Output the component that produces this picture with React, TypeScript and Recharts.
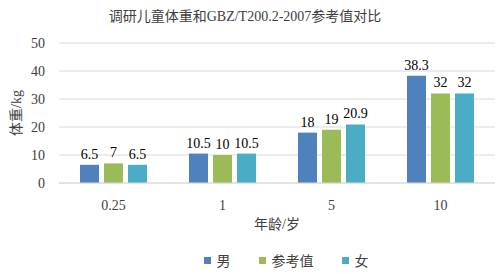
import React from "react";
import { BarChart, Bar, XAxis, YAxis, CartesianGrid, LabelList } from "recharts";

const ages = ["0.25", "1", "5", "10"];
const male = [6.5, 10.5, 18, 38.3];
const reference = [7, 10, 19, 32];
const female = [6.5, 10.5, 20.9, 32];
const yTicks = [0, 10, 20, 30, 40, 50];
const seriesNames = ["男", "参考值", "女"];
const seriesColors = ["#4F81BD", "#9BBB59", "#4BACC6"];

const data = ages.map((a, i) => ({ age: a, male: male[i], standard: reference[i], female: female[i] }));

const FONT = '"Liberation Serif", "Times New Roman", "Noto Sans CJK SC", serif';

export default function App() {
  return (
    <div style={{ position: "absolute", left: 0, top: 0, width: 500, height: 274, background: "#fff", fontFamily: FONT }}>
      <div style={{ position: "absolute", top: 5, left: 0, width: 490, textAlign: "center", fontSize: 14, color: "#404040" }}>
        调研儿童体重和GBZ/T200.2-2007参考值对比
      </div>
      <BarChart
        width={500}
        height={274}
        data={data}
        margin={{ top: 43, right: 5, bottom: 61, left: 9 }}
        barGap={5}
        barCategoryGap={21}
      >
        <CartesianGrid vertical={false} stroke="#d9d9d9" />
        <XAxis
          dataKey="age"
          height={30}
          axisLine={{ stroke: "#d9d9d9" }}
          tickLine={false}
          tick={{ fill: "#404040", fontSize: 14, fontFamily: FONT }}
          tickMargin={11}
          label={{ value: "年龄/岁", position: "insideBottom", offset: -16, fill: "#404040", fontSize: 14, fontFamily: FONT }}
        />
        <YAxis
          domain={[0, 50]}
          ticks={yTicks}
          interval={0}
          width={50}
          axisLine={false}
          tickLine={false}
          tick={{ fill: "#404040", fontSize: 14, fontFamily: FONT }}
          tickMargin={8}
          label={{ value: "体重/kg", angle: -90, position: "insideLeft", offset: 7, fill: "#404040", fontSize: 14, fontFamily: FONT, style: { textAnchor: "middle" } }}
        />
        <Bar dataKey="male" name="男" fill={seriesColors[0]} isAnimationActive={false}>
          <LabelList dataKey="male" position="top" fill="#000" fontSize={14} fontFamily={FONT} offset={6} />
        </Bar>
        <Bar dataKey="standard" name="参考值" fill={seriesColors[1]} isAnimationActive={false}>
          <LabelList dataKey="standard" position="top" fill="#000" fontSize={14} fontFamily={FONT} offset={6} />
        </Bar>
        <Bar dataKey="female" name="女" fill={seriesColors[2]} isAnimationActive={false}>
          <LabelList dataKey="female" position="top" fill="#000" fontSize={14} fontFamily={FONT} offset={6} />
        </Bar>
      </BarChart>
      <div style={{ position: "absolute", top: 250, left: 0, width: 500, display: "flex", justifyContent: "center", fontSize: 14, color: "#404040", paddingLeft: 72, boxSizing: "border-box" }}>
        {seriesNames.map((n, i) => (
          <div key={n} style={{ display: "flex", alignItems: "center", marginRight: i < 2 ? 28 : 0 }}>
            <span style={{ display: "inline-block", width: 7, height: 7, background: seriesColors[i], marginRight: 6 }} />
            <span>{n}</span>
          </div>
        ))}
      </div>
    </div>
  );
}
